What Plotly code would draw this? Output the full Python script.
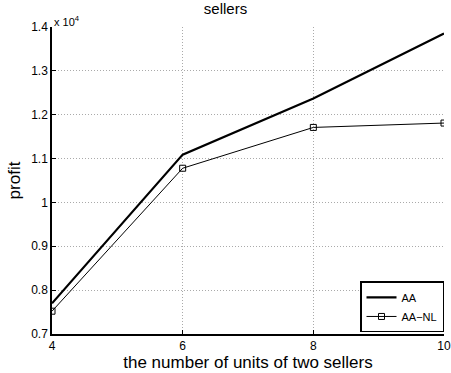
import plotly.graph_objects as go

units = [4, 6, 8, 10]
aa = [7700, 11090, 12370, 13850]
aa_nl = [7520, 10780, 11710, 11810]
ytick_vals = [7000, 8000, 9000, 10000, 11000, 12000, 13000, 14000]
ytick_text = ["0.7", "0.8", "0.9", "1", "1.1", "1.2", "1.3", "1.4"]
xtick_vals = [4, 6, 8, 10]

fig = go.Figure()
fig.add_trace(go.Scatter(x=units, y=aa, mode="lines", name="AA",
                         line=dict(color="black", width=2.2)))
fig.add_trace(go.Scatter(x=units, y=aa_nl, mode="lines+markers", name="AA\u2212NL",
                         line=dict(color="black", width=1),
                         marker=dict(symbol="square-open", size=6, color="black",
                                     line=dict(width=1))))

font = "Liberation Sans, Arial, sans-serif"
grid = dict(showgrid=True, gridcolor="#aaa", griddash="1px,2px", gridwidth=1)
fig.update_layout(
    width=451, height=373,
    margin=dict(l=52, r=7, t=27, b=39, autoexpand=False),
    paper_bgcolor="white", plot_bgcolor="white",
    font=dict(family=font, color="black", size=12),
    title=dict(text="sellers", x=0.5, xanchor="center", y=0.99, yanchor="top",
               font=dict(size=15, family=font)),
    showlegend=True,
    legend=dict(x=1.0, y=0.005, xanchor="right", yanchor="bottom",
                bordercolor="black", borderwidth=1.5, bgcolor="white",
                font=dict(size=11, family=font), tracegroupgap=0,
                itemwidth=30),
    xaxis=dict(range=[4, 10], tickvals=xtick_vals, **grid, automargin=False,
               showline=True, linecolor="black", linewidth=1.5,
               ticks="inside", ticklen=4, tickcolor="black",
               zeroline=False, tickfont=dict(size=12),
               title=dict(text="the number of units of two sellers",
                          font=dict(size=17), standoff=0)),
    yaxis=dict(range=[7000, 14000], tickvals=ytick_vals, ticktext=ytick_text,
               **grid, automargin=False,
               showline=True, linecolor="black", linewidth=1.5,
               ticks="inside", ticklen=4, tickcolor="black",
               zeroline=False, tickfont=dict(size=12),
               title=dict(text="profit", font=dict(size=17), standoff=6)),
)
fig.add_annotation(text="x 10<sup>4</sup>", xref="paper", yref="paper",
                   x=0, y=1, xanchor="left", yanchor="bottom", showarrow=False,
                   font=dict(size=11, family=font), xshift=0, yshift=-3)
fig.write_html("out.html")
